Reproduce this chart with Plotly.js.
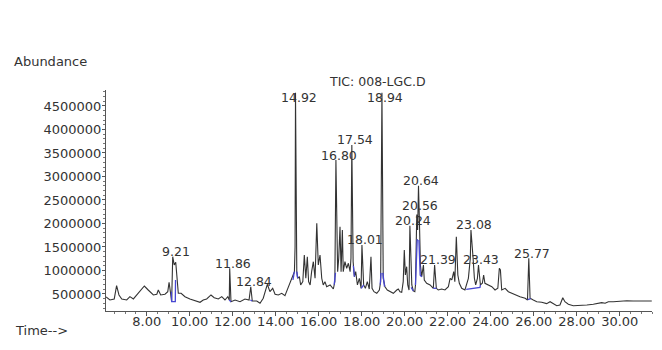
<!DOCTYPE html>
<html>
<head>
<meta charset="utf-8">
<script src="https://cdn.plot.ly/plotly-3.0.1.min.js"></script>
<style>html,body{margin:0;padding:0;background:#fff;}#chart{width:662px;height:350px;}</style>
</head>
<body>
<div id="chart"></div>
<script>
// Retention time (min)
const times = [6.11,6.29,6.49,6.60,6.71,6.84,7.07,7.22,7.38,7.61,7.89,8.07,8.31,8.47,8.54,8.65,8.85,8.98,9.04,9.10,
9.16,9.21,9.28,9.35,9.41,9.47,9.60,9.78,10.01,10.25,10.48,10.63,10.79,10.99,11.14,11.33,11.49,11.64,11.77,11.84,
11.86,11.92,12.11,12.34,12.57,12.76,12.84,12.91,13.12,13.27,13.42,13.61,13.73,13.86,13.97,14.12,14.28,14.43,14.54,14.67,
14.77,14.87,14.90,14.92,14.98,15.02,15.10,15.16,15.26,15.33,15.40,15.47,15.53,15.60,15.67,15.75,15.83,15.91,15.98,16.06,
16.14,16.21,16.29,16.37,16.53,16.68,16.75,16.80,16.88,16.93,16.99,17.04,17.10,17.14,17.22,17.30,17.38,17.46,17.50,17.54,
17.60,17.66,17.72,17.80,17.89,17.97,18.01,18.09,18.17,18.26,18.35,18.43,18.48,18.57,18.70,18.82,18.88,18.94,19.00,19.08,
19.19,19.32,19.47,19.63,19.70,19.78,19.86,19.93,19.98,20.03,20.09,20.14,20.20,20.24,20.33,20.40,20.47,20.50,20.56,20.60,
20.64,20.68,20.73,20.79,20.87,20.91,21.02,21.18,21.33,21.39,21.47,21.56,21.72,21.87,22.03,22.11,22.19,22.28,22.33,22.40,
22.47,22.54,22.65,22.80,22.88,22.96,23.05,23.08,23.18,23.24,23.30,23.38,23.43,23.52,23.61,23.67,23.73,23.86,24.05,24.20,
24.33,24.40,24.45,24.51,24.67,24.82,24.98,25.13,25.36,25.60,25.71,25.77,25.83,25.98,26.14,26.37,26.60,26.76,26.91,27.07,
27.22,27.35,27.45,27.61,27.84,28.16,28.47,28.77,29.00,29.16,29.32,29.47,29.70,30.01,30.33,30.63,30.94,31.26,31.49];

// Total ion current abundance
const abundance = [440000,372000,394000,677000,479000,394000,372000,443000,394000,521000,670000,585000,479000,494000,585000,479000,494000,549000,749000,549000,
336000,1294000,1117000,1175000,762000,515000,515000,443000,394000,351000,323000,372000,394000,479000,421000,394000,443000,372000,443000,372000,
1047000,336000,372000,336000,394000,372000,655000,351000,351000,302000,409000,706000,549000,621000,494000,479000,515000,464000,585000,762000,
834000,975000,1507000,4780000,975000,834000,868000,692000,762000,1330000,834000,1294000,762000,692000,975000,1187000,834000,2004000,1117000,1330000,
834000,692000,762000,655000,692000,606000,762000,3350000,975000,1260000,1932000,975000,1862000,975000,1187000,1047000,1153000,975000,1260000,3670000,
1187000,868000,975000,692000,834000,621000,1543000,692000,621000,762000,606000,1294000,621000,549000,515000,585000,762000,4780000,834000,655000,
585000,549000,515000,585000,606000,549000,536000,762000,1436000,904000,1081000,692000,585000,1953000,692000,564000,549000,692000,2190000,1860000,
2800000,2111000,1117000,868000,1117000,798000,728000,692000,621000,1117000,621000,585000,606000,585000,655000,834000,798000,975000,762000,1719000,
904000,728000,621000,585000,692000,834000,1260000,1862000,1260000,834000,692000,834000,1117000,692000,728000,904000,728000,692000,655000,585000,
621000,1047000,1011000,585000,621000,549000,515000,479000,443000,409000,372000,1260000,409000,372000,336000,323000,295000,336000,302000,251000,
266000,421000,336000,281000,251000,251000,266000,281000,294000,315000,302000,336000,336000,351000,357000,351000,357000,351000,351000];

// Integration baseline segments (blue), null separates segments
const blueTimes = [9.15,9.16,9.33,9.34,null,11.84,11.92,null,12.82,12.91,null,14.80,14.87,null,14.98,15.02,null,
16.72,16.78,null,17.61,17.66,null,17.98,18.09,null,18.86,18.90,null,18.98,19.06,null,20.30,20.40,null,
20.50,20.58,20.62,null,20.66,20.72,20.79,null,21.33,21.47,null,22.86,23.50,23.52,null,25.72,25.86];
const blueValues = [550000,336000,336000,800000,null,372000,336000,null,372000,351000,null,800000,975000,null,975000,834000,null,
700000,950000,null,1100000,868000,null,621000,692000,null,700000,950000,null,950000,655000,null,640000,564000,null,
692000,1650000,1650000,null,1650000,900000,868000,null,621000,621000,null,600000,640000,692000,null,380000,400000];

// Labelled peaks
const peakTimes = [9.21,11.86,12.84,14.92,16.80,17.54,18.01,18.94,20.24,20.56,20.64,21.39,23.08,23.43,25.77];
const peakLabels = ['9.21','11.86','12.84','14.92','16.80','17.54','18.01','18.94','20.24','20.56','20.64','21.39','23.08','23.43','25.77'];

const xTickVals = [8,10,12,14,16,18,20,22,24,26,28,30];
const xTickText = ['8.00','10.00','12.00','14.00','16.00','18.00','20.00','22.00','24.00','26.00','28.00','30.00'];
const yTickVals = [500000,1000000,1500000,2000000,2500000,3000000,3500000,4000000,4500000];
const yTickText = ['500000','1000000','1500000','2000000','2500000','3000000','3500000','4000000','4500000'];

const chartTitle = 'TIC: 008-LGC.D';
const yLabel = 'Abundance';
const xLabel = 'Time-->';

const FONT = 'DejaVu Sans, Arial, sans-serif';
const TXT = '#333333';
const LABEL_SIZE = 12.5;
// extra vertical lift (px) for crowded labels
const labelLift = {'20.56': 4};

const traces = [
  {x: times, y: abundance, type: 'scatter', mode: 'lines',
   line: {color: '#333333', width: 1.1}, hoverinfo: 'skip'},
  {x: blueTimes, y: blueValues, type: 'scatter', mode: 'lines', connectgaps: false,
   line: {color: '#4646d2', width: 1.3}, hoverinfo: 'skip'}
];

const annotations = peakTimes.map((t, i) => {
  const idx = times.indexOf(t);
  const v = abundance[idx];
  const lift = labelLift[peakLabels[i]] || 0;
  return {x: t, y: v, xref: 'x', yref: 'y', text: peakLabels[i], showarrow: false, borderpad: 0,
    xanchor: 'center', yanchor: 'middle', xshift: 3, yshift: (v > 4500000 ? -5 : 5) + lift,
    font: {family: FONT, size: LABEL_SIZE, color: TXT}};
});
annotations.push({xref: 'paper', yref: 'paper', x: 0.498, y: 1.0362, xanchor: 'center', yanchor: 'middle',
  text: chartTitle, showarrow: false, borderpad: 0, font: {family: FONT, size: LABEL_SIZE, color: TXT}});
annotations.push({xref: 'paper', yref: 'paper', x: -0.1727, y: 1.128, xanchor: 'left', yanchor: 'middle',
  text: yLabel, showarrow: false, font: {family: FONT, size: 13, color: TXT}});
annotations.push({xref: 'paper', yref: 'paper', x: -0.171, y: -0.09, xanchor: 'left', yanchor: 'middle',
  text: xLabel, showarrow: false, font: {family: FONT, size: 13, color: TXT}});

const layout = {
  width: 662, height: 350,
  margin: {l: 106, r: 10, t: 90, b: 39, pad: 0},
  paper_bgcolor: '#ffffff', plot_bgcolor: '#ffffff',
  showlegend: false,
  font: {family: FONT, size: 13, color: TXT},
  xaxis: {range: [6.107, 31.5], tickmode: 'array', tickvals: xTickVals, ticktext: xTickText,
          ticks: 'outside', ticklen: 4, tickcolor: '#555', tickwidth: 1, ticklabelstandoff: -6,
          showline: true, linecolor: '#555', linewidth: 1, showgrid: false, zeroline: false,
          minor: {tickmode: 'linear', tick0: 6.5, dtick: 0.5, ticks: 'outside', ticklen: 2, tickcolor: '#777', showgrid: false},
          tickfont: {family: FONT, size: 13, color: TXT}},
  yaxis: {range: [138000, 4840000], tickmode: 'array', tickvals: yTickVals, ticktext: yTickText,
          ticks: 'outside', ticklen: 3, tickcolor: '#555', tickwidth: 1, ticklabelstandoff: -2,
          showline: true, linecolor: '#555', linewidth: 1, showgrid: false, zeroline: false,
          minor: {tickmode: 'linear', tick0: 0, dtick: 100000, ticks: 'outside', ticklen: 2, tickcolor: '#777', showgrid: false},
          tickfont: {family: FONT, size: 13, color: TXT}},
  annotations: annotations
};

Plotly.newPlot('chart', traces, layout, {staticPlot: true, displayModeBar: false});
</script>
</body>
</html>
